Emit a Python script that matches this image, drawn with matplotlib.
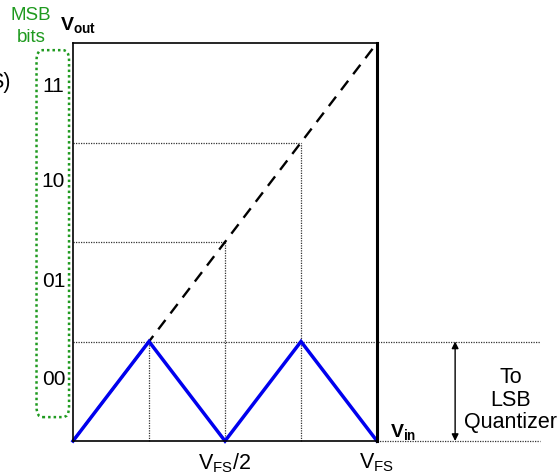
import matplotlib
matplotlib.use("Agg")
import matplotlib.pyplot as plt
from matplotlib.patches import FancyBboxPatch

plt.rcParams['font.family'] = ['Liberation Sans', 'DejaVu Sans']
plt.rcParams['mathtext.fontset'] = 'custom'
plt.rcParams['mathtext.rm'] = 'Liberation Sans'
plt.rcParams['mathtext.it'] = 'Liberation Sans:italic'
plt.rcParams['mathtext.bf'] = 'Liberation Sans:bold'

# ---- data ----
vin = [0.0, 0.25, 0.5, 0.75, 1.0]
residue = [0.0, 0.25, 0.0, 0.25, 0.0]
ideal_x = [0.0, 1.0]
ideal_y = [0.0, 1.0]
thresholds = [0.25, 0.5, 0.75]
msb_codes = ['00', '01', '10', '11']
msb_label_y = [0.155, 0.40, 0.652, 0.89]
x_tick_pos = [0.5, 1.0]
x_tick_labels = [r'V$_{\mathrm{FS}}$/2', r'V$_{\mathrm{FS}}$']

W, H = 558, 476
fig = plt.figure(figsize=(W / 100, H / 100), dpi=100)
L, R, T, B = 73, 377, 43, 441
ax = fig.add_axes([L / W, (H - B) / H, (R - L) / W, (B - T) / H])
ax.set_xlim(0, 1)
ax.set_ylim(0, 1)
ax.set_xticks([])
ax.set_yticks([])
for s in ['left', 'top', 'bottom']:
    ax.spines[s].set_linewidth(1.2)
ax.spines['right'].set_linewidth(2.2)

dot = dict(color='#333333', lw=0.9, ls=(0, (1, 1)), clip_on=False)
# horizontal threshold-level lines
ax.plot([0, 1.536], [0.25, 0.25], **dot)
ax.plot([1.0, 1.536], [0.0, 0.0], **dot)
ax.plot([0, 0.5], [0.5, 0.5], **dot)
ax.plot([0, 0.75], [0.75, 0.75], **dot)
# vertical lines at thresholds
for t in thresholds:
    ax.plot([t, t], [0, t], **dot)

# ideal transfer (dashed)
ax.plot(ideal_x, ideal_y, color='black', lw=1.7, ls=(0, (5, 3.5)), clip_on=False)
# residue (blue)
ax.plot(vin, residue, color='#0000ee', lw=2.5, clip_on=False, solid_joinstyle='miter')

# double arrow
ax.annotate('', xy=(1.257, 0.0), xytext=(1.257, 0.25),
            arrowprops=dict(arrowstyle='<|-|>', color='black', lw=1.0,
                            mutation_scale=10, shrinkA=0, shrinkB=0),
            annotation_clip=False)
ax.text(1.44, 0.103, 'To\nLSB\nQuantizer', ha='center', va='center',
        fontsize=15.5, linespacing=1.1)

# axis labels
ax.text(1.043, 0.022, r'$\mathbf{V_{in}}$', ha='left', va='center', fontsize=14)
ax.text(0.016, 1.045, r'$\mathbf{V_{out}}$', ha='center', va='center', fontsize=14)
for xp, lab in zip(x_tick_pos, x_tick_labels):
    ax.text(xp, -0.055, lab, ha='center', va='center', fontsize=15.5)

# MSB codes
for yv, code in zip(msb_label_y, msb_codes):
    ax.text(-0.064, yv, code, ha='center', va='center', fontsize=15)

green = '#1f9a1f'
box = FancyBboxPatch((-0.120, 0.060), 0.107, 0.922,
                     boxstyle='round,pad=0,rounding_size=0.02',
                     fill=False, ec=green, lw=1.8, ls=(0, (1, 1.2)),
                     transform=ax.transAxes, clip_on=False,
                     mutation_aspect=1.3)
ax.add_patch(box)
ax.text(-0.138, 1.070, 'MSB', ha='center', va='center', fontsize=13.5, color=green)
ax.text(-0.138, 1.015, 'bits', ha='center', va='center', fontsize=13.5, color=green)

# cropped leftover text at the left edge (cut off in the reference too)
ax.text(-0.207, 0.90, 'S)', ha='right', va='center', fontsize=15.5)

fig.savefig('out.png', dpi=100)
